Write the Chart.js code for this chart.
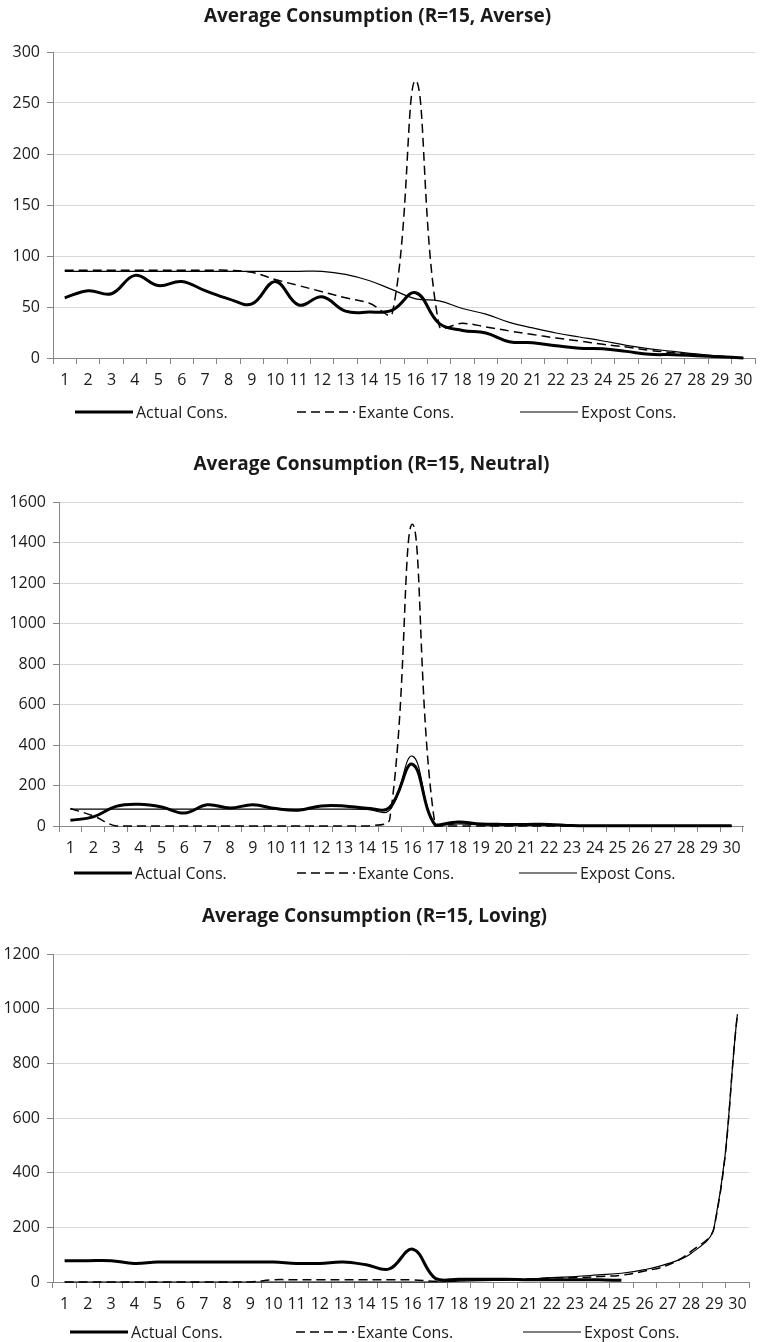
<!DOCTYPE html>
<html><head><meta charset="utf-8">
<script src="https://cdn.jsdelivr.net/npm/chart.js@4.4.1/dist/chart.umd.min.js"></script>
<style>
html,body{margin:0;padding:0;background:#fff;width:760px;height:1342px;overflow:hidden}
.box{position:absolute;left:0;width:760px}
canvas{display:block}
</style></head><body>
<div class="box" style="top:0;height:440px"><canvas id="c1" width="760" height="440"></canvas></div>
<div class="box" style="top:440px;height:450px"><canvas id="c2" width="760" height="450"></canvas></div>
<div class="box" style="top:890px;height:452px"><canvas id="c3" width="760" height="452"></canvas></div>
<script>
// ---------- DATA ----------
const periods = ["1","2","3","4","5","6","7","8","9","10","11","12","13","14","15","16","17","18","19","20","21","22","23","24","25","26","27","28","29","30"];
const seriesNames = ["Actual Cons.", "Exante Cons.", "Expost Cons."];

const titleAverse = "Average Consumption (R=15, Averse)";
const actualAverse = [59,66,63,81,71,75,66,58,53,75,52,60,46,45,47,64,34,27,24.5,16,15,12,9.5,9,6.5,3.6,3.3,2.3,1.3,0];
const exanteAverse = [86,86,86,86,86,86,86,86,84,77,71,65,59,54,44,272,32,34,30.5,26.5,23,19.6,16.7,13.4,10.8,7.5,5.2,3,1.5,0];
const expostAverse = [85,85,85,85,85,85,85,85,85,85,85,85,82,76,67,58,56,48.5,43,35,29.5,24.5,20.6,16.7,12.4,9,6.5,4,2,0];

const titleNeutral = "Average Consumption (R=15, Neutral)";
const actualNeutral = [28,45,97,107,94,64,105,89,105,86,78,99,99,88,92,305,5,20,10,8,8,8,2,1,1,1,1,1,1,1];
const exanteNeutral = [86,50,0,0,0,0,0,0,0,0,0,0,0,0,30,1490,0,0,0,0,0,0,0,0,0,0,0,0,0,0];
const expostNeutral = [83,83,83,83,83,83,83,83,83,83,83,83,83,82,78,345,0,10,5,4,4,4,2,1,1,1,1,1,1,1];

const titleLoving = "Average Consumption (R=15, Loving)";
const actualLoving = [78,78,78,68,73,73,73,73,73,73,68,68,73,63,48,120,12,10,10,10,8,8,8,8,6,null,null,null,null,null];
const exanteLoving = [0,0,0,0,0,0,0,0,0,8,8,8,8,8,8,8,3,8,8,8,11,15,16,20,25,40,62,112,200,980];
const expostLoving = [0,0,0,0,0,0,0,0,0,0,0,0,0,0,0,0,0,3,5,7,10,16,20,26,32,45,67,104,202,980];

const yMaxAverse = 300, yStepAverse = 50;
const yMaxNeutral = 1600, yStepNeutral = 200;
const yMaxLoving = 1200, yStepLoving = 200;

// ---------- STYLE ----------
const FONT = "'Open Sans', 'Noto Sans', sans-serif";
const TXT = '#1a1a1a';
const AXIS = '#868686';
const GRID = '#d9d9d9';

const legendPlugin = {
  id: 'sideLegend',
  afterDraw(chart, args, opts) {
    const ctx = chart.ctx;
    ctx.save();
    chart.data.datasets.forEach((ds, i) => {
      const x0 = opts.starts[i], x1 = x0 + opts.len, y = opts.y;
      ctx.beginPath();
      ctx.lineWidth = ds.borderWidth;
      ctx.strokeStyle = ds.borderColor;
      ctx.setLineDash(ds.borderDash || []);
      ctx.moveTo(x0, y); ctx.lineTo(x1, y); ctx.stroke();
      ctx.setLineDash([]);
      ctx.fillStyle = TXT;
      ctx.font = "16px " + FONT;
      ctx.textBaseline = 'middle';
      ctx.textAlign = 'left';
      ctx.fillText(ds.label, x1 + 3, y + 1);
    });
    ctx.restore();
  }
};

function makeChart(id, title, actual, exante, expost, yMax, yStep, lay) {
  return new Chart(document.getElementById(id), {
    type: 'line',
    data: {
      labels: periods,
      datasets: [
        {label: seriesNames[0], data: actual, borderColor: '#000', borderWidth: 3, borderDash: []},
        {label: seriesNames[1], data: exante, borderColor: '#000', borderWidth: 1.5, borderDash: [9,5]},
        {label: seriesNames[2], data: expost, borderColor: '#000', borderWidth: 1.2, borderDash: []}
      ]
    },
    options: {
      responsive: false,
      animation: false,
      devicePixelRatio: 1,
      elements: {
        point: {radius: 0, hoverRadius: 0},
        line: {tension: 0.4, fill: false, borderCapStyle: 'butt'}
      },
      datasets: {line: {clip: false}},
      layout: {padding: {left: 0, right: lay.right, top: 0, bottom: lay.bottom}},
      plugins: {
        legend: {display: false},
        tooltip: {enabled: false},
        title: {
          display: true, text: title, color: TXT,
          font: {family: FONT, size: 19, weight: 'bold'},
          padding: {top: lay.titleTop, bottom: lay.titleBottom}
        },
        sideLegend: {starts: lay.legendStarts, len: 58, y: lay.legendY}
      },
      scales: {
        x: {
          offset: true,
          grid: {offset: true, drawOnChartArea: false, drawTicks: true, tickLength: 6, tickColor: AXIS},
          border: {color: AXIS, width: 1},
          ticks: {autoSkip: false, maxRotation: 0, minRotation: 0, padding: 7, color: TXT, font: {family: FONT, size: 16}},
          afterFit: s => { s.height = 40; }
        },
        y: {
          min: 0, max: yMax,
          grid: {color: c => (c.tick && c.tick.value === 0) ? 'rgba(0,0,0,0)' : GRID, tickColor: AXIS, tickLength: 6, lineWidth: 1},
          border: {color: AXIS, width: 1},
          ticks: {stepSize: yStep, padding: 7, color: TXT, font: {family: FONT, size: 16}, callback: v => String(v)},
          afterFit: s => { s.width = lay.axisLeft; }
        }
      }
    },
    plugins: [legendPlugin]
  });
}

makeChart('c1', titleAverse, actualAverse, exanteAverse, expostAverse, yMaxAverse, yStepAverse,
  {axisLeft: 53, right: 5, bottom: 42, titleTop: 5.6, titleBottom: 23.6, legendStarts: [75, 297, 520], legendY: 412});
makeChart('c2', titleNeutral, actualNeutral, exanteNeutral, expostNeutral, yMaxNeutral, yStepNeutral,
  {axisLeft: 59, right: 17, bottom: 24, titleTop: 13.6, titleBottom: 25.6, legendStarts: [74, 297, 519], legendY: 433});
makeChart('c3', titleLoving, actualLoving, exanteLoving, expostLoving, yMaxLoving, yStepLoving,
  {axisLeft: 53, right: 11, bottom: 20, titleTop: 15.6, titleBottom: 25.6, legendStarts: [70, 296, 523], legendY: 442});
</script>
</body></html>
